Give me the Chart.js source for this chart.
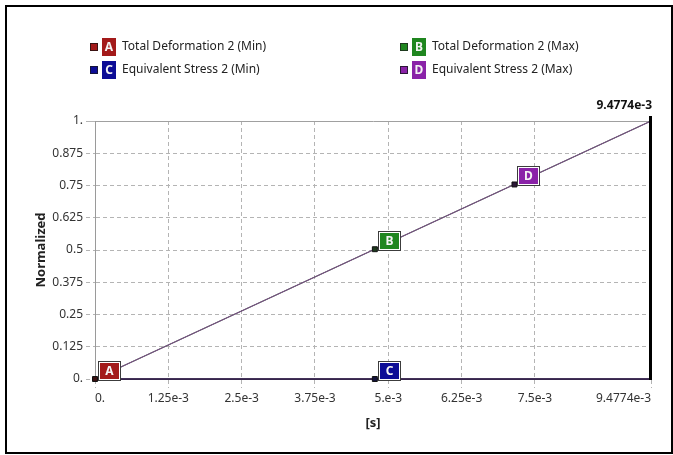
<!DOCTYPE html>
<html>
<head>
<meta charset="utf-8">
<title>Normalized probe history</title>
<script src="https://cdn.jsdelivr.net/npm/chart.js@4/dist/chart.umd.min.js"></script>
<style>
  html, body { margin: 0; padding: 0; background: #ffffff; }
  #wrap { position: relative; width: 673px; height: 455px; }
  canvas { display: block; }
</style>
</head>
<body>
<div id="wrap"><canvas id="chart" width="673" height="455"></canvas></div>
<script>
// Time steps of the solution [s] and the normalized result curves
const timeSteps = [0, 9.4774e-3];
const totalDeformationMin = [0, 0];
const totalDeformationMax = [0, 1];
const equivalentStressMin = [0, 0];
const equivalentStressMax = [0, 1];

// Axis ticks
const xTickValues = [0, 1.25e-3, 2.5e-3, 3.75e-3, 5e-3, 6.25e-3, 7.5e-3, 9.4774e-3];
const xTickLabels = ['0.', '1.25e-3', '2.5e-3', '3.75e-3', '5.e-3', '6.25e-3', '7.5e-3', '9.4774e-3'];
const yTickValues = [0, 0.125, 0.25, 0.375, 0.5, 0.625, 0.75, 0.875, 1];
const yTickLabels = ['0.', '0.125', '0.25', '0.375', '0.5', '0.625', '0.75', '0.875', '1.'];

// Result probes (letter tags) placed on the curves
const probeLetters = ['A', 'B', 'C', 'D'];
const probeNames = ['Total Deformation 2 (Min)', 'Total Deformation 2 (Max)',
                    'Equivalent Stress 2 (Min)', 'Equivalent Stress 2 (Max)'];
const probeTimes = [0, 4.77e-3, 4.77e-3, 7.15e-3];
const probeValues = [0, 0.503, 0, 0.754];

// Current time marker
const currentTime = 9.4774e-3;
const currentTimeLabel = '9.4774e-3';

const seriesColors = ['#a31a1a', '#1f861f', '#0c0c96', '#8a22a8'];
const markerColors = ['#3a1212', '#1e3a1e', '#14143c', '#2c1838'];

const FONT = '"Segoe UI", "Noto Sans", "Open Sans", sans-serif';
Chart.defaults.font.family = FONT;
Chart.defaults.font.size = 12;
Chart.defaults.color = '#333333';

const toPoints = (xs, ys) => xs.map((x, i) => ({ x: x, y: ys[i] }));

function drawTag(ctx, left, top, w, h, color, letter, outlined) {
  if (outlined) {
    ctx.fillStyle = '#3c3c3c';
    ctx.fillRect(left, top, w, h);
    ctx.fillStyle = '#ffffff';
    ctx.fillRect(left + 1, top + 1, w - 2, h - 2);
    ctx.fillStyle = color;
    ctx.fillRect(left + 2, top + 2, w - 4, h - 4);
  } else {
    ctx.fillStyle = color;
    ctx.fillRect(left, top, w, h);
  }
  ctx.fillStyle = '#f4f4f4';
  ctx.font = 'bold 12px ' + FONT;
  ctx.textAlign = 'center';
  ctx.textBaseline = 'middle';
  ctx.fillText(letter, left + w / 2, top + h / 2 + 0.5);
}

const decorations = {
  id: 'decorations',
  beforeDraw(chart) {
    const ctx = chart.ctx;
    ctx.save();
    ctx.fillStyle = '#ffffff';
    ctx.fillRect(0, 0, chart.width, chart.height);
    ctx.restore();
  },
  afterDatasetsDraw(chart) {
    const ctx = chart.ctx;
    const xs = chart.scales.x, ys = chart.scales.y;
    const area = chart.chartArea;
    ctx.save();

    // current time line and its value
    const tx = Math.round(xs.getPixelForValue(currentTime));
    ctx.fillStyle = '#000000';
    ctx.fillRect(tx - 2, area.top - 5, 3, area.bottom - area.top + 6);
    ctx.font = 'bold 12px ' + FONT;
    ctx.textAlign = 'right';
    ctx.textBaseline = 'alphabetic';
    ctx.fillStyle = '#111111';
    ctx.fillText(currentTimeLabel, tx + 1, area.top - 12);

    // probe tags
    probeLetters.forEach((letter, i) => {
      const px = xs.getPixelForValue(probeTimes[i]);
      const py = ys.getPixelForValue(probeValues[i]);
      drawTag(ctx, Math.round(px + 3), Math.round(py + 2 - 20), 23, 20, seriesColors[i], letter, true);
    });

    // legend
    const cols = [90, 400];
    const rows = [47, 70];
    probeLetters.forEach((letter, i) => {
      const cx = cols[i % 2];
      const cy = rows[Math.floor(i / 2)];
      ctx.fillStyle = markerColors[i];
      ctx.fillRect(cx, cy - 4, 8, 8);
      ctx.fillStyle = seriesColors[i];
      ctx.fillRect(cx + 1, cy - 3, 6, 6);
      drawTag(ctx, cx + 12, cy - 9, 14, 18, seriesColors[i], letter, false);
      ctx.font = '12px ' + FONT;
      ctx.textAlign = 'left';
      ctx.textBaseline = 'middle';
      ctx.fillStyle = '#222222';
      ctx.fillText(probeNames[i], cx + 32, cy);
    });

    // outer frame
    ctx.strokeStyle = '#000000';
    ctx.lineWidth = 2;
    ctx.strokeRect(6, 6, 666, 447);
    ctx.restore();
  }
};

const gridDash = (ctx) => (ctx.tick && (ctx.tick.value === 1 || ctx.tick.value === 0) ? [] : [4, 3]);

new Chart(document.getElementById('chart'), {
  type: 'line',
  data: {
    datasets: [
      {
        label: 'Probe points',
        data: toPoints(probeTimes, probeValues),
        showLine: false,
        pointStyle: 'rect',
        pointRadius: 3.5,
        pointBackgroundColor: markerColors,
        pointBorderColor: '#111111',
        pointBorderWidth: 1,
        order: 0
      },
      {
        label: probeNames[2],
        data: toPoints(timeSteps, equivalentStressMin),
        borderColor: '#141448',
        borderWidth: 1.5,
        pointRadius: 0,
        order: 1
      },
      {
        label: probeNames[0],
        data: toPoints(timeSteps, totalDeformationMin),
        borderColor: seriesColors[0],
        borderWidth: 1,
        pointRadius: 0,
        order: 2
      },
      {
        label: probeNames[3],
        data: toPoints(timeSteps, equivalentStressMax),
        borderColor: '#7c4a88',
        borderWidth: 1.2,
        pointRadius: 0,
        order: 3
      },
      {
        label: probeNames[1],
        data: toPoints(timeSteps, totalDeformationMax),
        borderColor: seriesColors[1],
        borderWidth: 1,
        pointRadius: 0,
        order: 4
      }
    ]
  },
  options: {
    responsive: false,
    animation: false,
    clip: false,
    layout: { padding: { top: 121, right: 22, bottom: 0, left: 0 } },
    plugins: { legend: { display: false }, tooltip: { enabled: false } },
    scales: {
      x: {
        type: 'linear',
        min: 0,
        max: currentTime,
        afterBuildTicks: (scale) => { scale.ticks = xTickValues.map(v => ({ value: v })); },
        afterFit: (scale) => { scale.height = 76; },
        ticks: {
          autoSkip: false,
          maxRotation: 0,
          align: 'inner',
          padding: 3,
          color: '#333333',
          font: { size: 12 },
          callback: (value, index) => xTickLabels[index]
        },
        grid: {
          color: '#b4b4b4',
          tickLength: 9,
          tickColor: '#b4b4b4',
          tickBorderDash: [4, 3]
        },
        border: { display: true, color: '#9a9a9a', dash: gridDash },
        title: {
          display: true,
          text: '[s]',
          font: { size: 13, weight: 'bold' },
          color: '#222222',
          padding: { top: 0, bottom: 24 }
        }
      },
      y: {
        type: 'linear',
        min: 0,
        max: 1,
        afterBuildTicks: (scale) => { scale.ticks = yTickValues.map(v => ({ value: v })); },
        afterFit: (scale) => { scale.width = 95; },
        ticks: {
          autoSkip: false,
          padding: 3,
          color: '#333333',
          font: { size: 12 },
          callback: (value, index) => yTickLabels[index]
        },
        grid: {
          color: (ctx) => (ctx.tick && ctx.tick.value === 1 ? '#a0a0a0' : '#b4b4b4'),
          tickLength: 9,
          tickColor: '#b4b4b4',
          tickBorderDash: (ctx) => (ctx.tick && ctx.tick.value === 1 ? [] : [4, 3])
        },
        border: { display: true, color: '#9a9a9a', dash: gridDash },
        title: {
          display: true,
          text: 'Normalized',
          font: { size: 13, weight: 'bold' },
          color: '#222222',
          padding: { top: 33, bottom: 0 }
        }
      }
    }
  },
  plugins: [decorations]
});
</script>
</body>
</html>
